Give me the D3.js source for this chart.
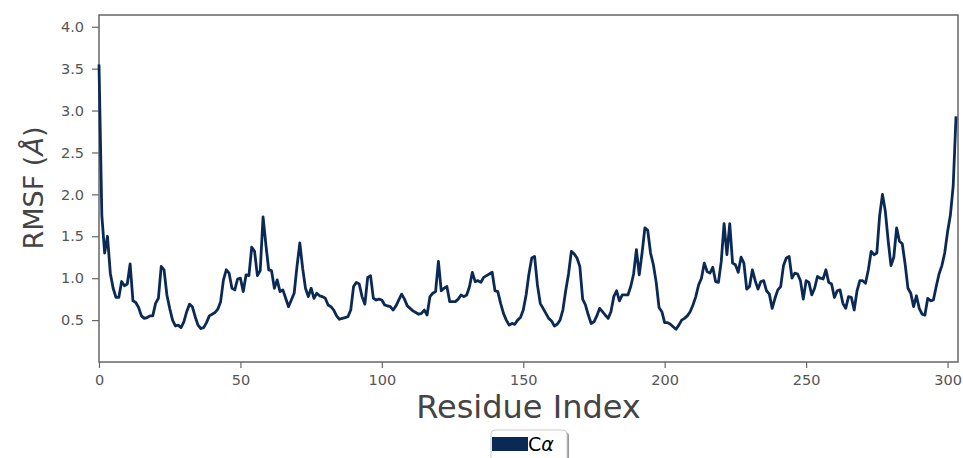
<!DOCTYPE html>
<html>
<head>
<meta charset="utf-8">
<script src="https://cdn.jsdelivr.net/npm/d3@7"></script>
<style>
  body { margin: 0; background: #fff; }
  svg { display: block; font-family: "DejaVu Sans", sans-serif; }
</style>
</head>
<body>
<svg id="chart" width="963" height="458"></svg>
<script>
// RMSF per residue (C-alpha)
const rmsf = [
  3.55, 1.75, 1.30, 1.50, 1.06, 0.88, 0.77, 0.77, 0.96, 0.91,
  0.93, 1.17, 0.73, 0.71, 0.65, 0.55, 0.52, 0.53, 0.55, 0.55,
  0.70, 0.76, 1.14, 1.10, 0.80, 0.64, 0.50, 0.43, 0.44, 0.41,
  0.48, 0.60, 0.69, 0.66, 0.54, 0.44, 0.40, 0.41, 0.47, 0.55,
  0.57, 0.59, 0.63, 0.72, 0.98, 1.10, 1.06, 0.88, 0.86, 0.99,
  1.00, 0.84, 1.04, 1.03, 1.37, 1.32, 1.03, 1.09, 1.73, 1.40,
  1.10, 1.09, 0.88, 0.98, 0.84, 0.86, 0.76, 0.66, 0.74, 0.82,
  1.14, 1.42, 1.12, 0.88, 0.78, 0.88, 0.76, 0.82, 0.79, 0.78,
  0.76, 0.68, 0.66, 0.62, 0.55, 0.51, 0.52, 0.53, 0.54, 0.62,
  0.90, 0.95, 0.93, 0.78, 0.69, 1.01, 1.03, 0.76, 0.74, 0.75,
  0.74, 0.68, 0.67, 0.66, 0.62, 0.67, 0.74, 0.81, 0.75, 0.67,
  0.64, 0.61, 0.59, 0.57, 0.58, 0.62, 0.56, 0.78, 0.82, 0.84,
  1.20, 0.85, 0.88, 0.90, 0.72, 0.72, 0.72, 0.75, 0.80, 0.78,
  0.80, 0.90, 1.07, 0.96, 0.97, 0.95, 1.01, 1.03, 1.05, 1.07,
  0.85, 0.84, 0.70, 0.58, 0.50, 0.44, 0.46, 0.45, 0.50, 0.53,
  0.62, 0.80, 1.05, 1.24, 1.26, 0.92, 0.70, 0.64, 0.58, 0.52,
  0.49, 0.43, 0.45, 0.50, 0.62, 0.85, 1.05, 1.32, 1.29, 1.24,
  1.14, 0.75, 0.68, 0.56, 0.46, 0.48, 0.55, 0.64, 0.60, 0.56,
  0.52, 0.60, 0.78, 0.85, 0.73, 0.80, 0.80, 0.80, 0.90, 1.05,
  1.34, 1.04, 1.30, 1.60, 1.57, 1.30, 1.16, 0.95, 0.65, 0.60,
  0.47, 0.47, 0.45, 0.42, 0.39, 0.44, 0.50, 0.52, 0.55, 0.60,
  0.68, 0.78, 0.92, 1.00, 1.18, 1.08, 1.06, 1.13, 0.96, 0.95,
  1.20, 1.65, 1.28, 1.65, 1.18, 1.16, 1.07, 1.25, 1.18, 0.87,
  0.90, 1.10, 0.97, 0.87, 0.96, 0.97, 0.85, 0.81, 0.64, 0.76,
  0.86, 0.90, 1.15, 1.24, 1.26, 1.00, 1.06, 1.05, 0.97, 0.75,
  0.97, 0.95, 0.80, 0.88, 1.02, 1.00, 0.99, 1.10, 0.95, 0.93,
  0.77, 0.85, 0.86, 0.70, 0.64, 0.78, 0.77, 0.62, 0.85, 0.97,
  0.97, 0.94, 1.10, 1.32, 1.28, 1.30, 1.75, 2.00, 1.80, 1.45,
  1.15, 1.25, 1.60, 1.44, 1.41, 1.17, 0.88, 0.82, 0.66, 0.79,
  0.64, 0.57, 0.56, 0.76, 0.73, 0.74, 0.90, 1.05, 1.15, 1.30,
  1.55, 1.75, 2.10, 2.93
];
const xTicks = [0, 50, 100, 150, 200, 250, 300];
const yTicks = [0.5, 1.0, 1.5, 2.0, 2.5, 3.0, 3.5, 4.0];
const seriesName = 'C';

const lineColor = '#0a2a55';
const spineColor = '#666';
const labelColor = '#444';

const svg = d3.select('#chart');
const plot = { left: 99, right: 958, top: 15, bottom: 362 };

const x = d3.scaleLinear().domain([0, 303.7]).range([plot.left, plot.right]);
const y = d3.scaleLinear().domain([0, 4.14]).range([plot.bottom, plot.top]);

// axes
const xAxis = svg.append('g')
    .attr('transform', `translate(0,${plot.bottom})`)
    .call(d3.axisBottom(x).tickValues(xTicks).tickFormat(d3.format('d'))
        .tickSize(6).tickSizeOuter(0).tickPadding(5));

const yAxis = svg.append('g')
    .attr('transform', `translate(${plot.left},0)`)
    .call(d3.axisLeft(y).tickValues(yTicks).tickFormat(d3.format('.1f'))
        .tickSize(7).tickSizeOuter(0).tickPadding(8));

[xAxis, yAxis].forEach(g => {
    g.select('.domain').remove();
    g.selectAll('line').attr('stroke', spineColor).attr('stroke-width', 1.2);
    g.selectAll('text')
        .attr('fill', '#555')
        .style('font-size', '14.5px')
        .style('font-family', '"DejaVu Sans", sans-serif');
});
xAxis.selectAll('text').attr('dy', '0.85em');

// frame
svg.append('rect')
    .attr('x', plot.left).attr('y', plot.top)
    .attr('width', plot.right - plot.left).attr('height', plot.bottom - plot.top)
    .attr('fill', 'none')
    .attr('stroke', spineColor)
    .attr('stroke-width', 1.5);

// RMSF line
const line = d3.line()
    .x((d, i) => x(i))
    .y(d => y(d));

svg.append('path')
    .datum(rmsf)
    .attr('d', line)
    .attr('fill', 'none')
    .attr('stroke', lineColor)
    .attr('stroke-width', 2.8)
    .attr('stroke-linejoin', 'round');

// axis labels
svg.append('text')
    .attr('x', (plot.left + plot.right) / 2)
    .attr('y', 418)
    .attr('text-anchor', 'middle')
    .attr('fill', labelColor)
    .style('font-size', '32px')
    .text('Residue Index');

const yl = svg.append('text')
    .attr('transform', 'translate(43,188) rotate(-90)')
    .attr('text-anchor', 'middle')
    .attr('fill', labelColor)
    .style('font-size', '27px');
yl.append('tspan').text('RMSF (');
yl.append('tspan').style('font-style', 'italic').text('Å');
yl.append('tspan').text(')');

// legend
const lg = svg.append('g');
lg.append('rect')
    .attr('x', 493).attr('y', 432)
    .attr('width', 76).attr('height', 40)
    .attr('rx', 4)
    .attr('fill', '#999');
lg.append('rect')
    .attr('x', 491).attr('y', 430)
    .attr('width', 76).attr('height', 40)
    .attr('rx', 4)
    .attr('fill', '#fff')
    .attr('stroke', '#ccc');
lg.append('rect')
    .attr('x', 492).attr('y', 437)
    .attr('width', 36).attr('height', 14)
    .attr('fill', lineColor);
const lt = lg.append('text')
    .attr('x', 528).attr('y', 451)
    .attr('fill', '#000')
    .style('font-size', '19px');
lt.append('tspan').text(seriesName);
lt.append('tspan').style('font-style', 'italic').text('α');
</script>
</body>
</html>
